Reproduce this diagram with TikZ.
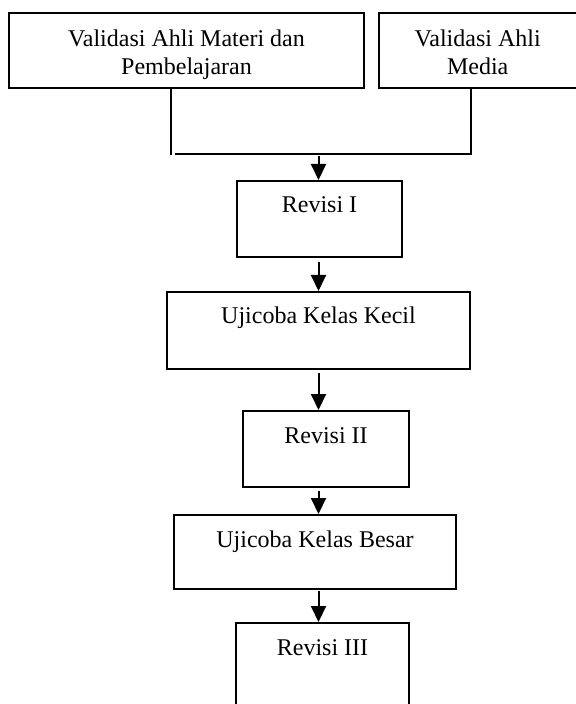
\documentclass[tikz,border=0pt]{standalone}
\usepackage{fontspec}
\setmainfont{Liberation Serif}
\usetikzlibrary{arrows.meta,calc}
\begin{document}
\begin{tikzpicture}[x=0.5pt,y=-0.5pt,line width=1pt,
  box/.style={draw,rectangle,inner sep=0pt,text height=16pt,font=\fontsize{12}{14}\selectfont},
  txt/.style={inner sep=0pt,align=center,anchor=north,font=\fontsize{12}{14}\selectfont},
  arr/.style={-{Triangle[width=7.5pt,length=8pt]}}]
\useasboundingbox (0,0) rectangle (576,704);
% top boxes
\node[box,minimum width=177.5pt,minimum height=37.5pt] (a) at (186.5,50.5) {};
\node[txt] (at) at (186.5,28.6) {Validasi Ahli Materi dan\\Pembelajaran};
\node[box,minimum width=99.5pt,minimum height=37.5pt] (b) at (478.5,50.5) {};
\node[txt] (bt) at (477.7,28.6) {Validasi Ahli\\Media};
% chain
\node[box,minimum width=82.5pt,text depth=22pt] (r1) at (319.5,219) {Revisi I};
\node[box,minimum width=151.5pt,text depth=22.5pt] (uk) at (318.5,330.5) {Ujicoba Kelas Kecil};
\node[box,minimum width=83pt,text depth=22pt] (r2) at (326,449) {Revisi II};
\node[box,minimum width=141pt,text depth=21pt] (ub) at (315,552) {Ujicoba Kelas Besar};
\node[box,minimum width=86.5pt,text depth=26.5pt] (r3) at (322.5,665.5) {Revisi III};
% junction
\coordinate (jl) at (171,155);
\coordinate (js) at (175,154);
\coordinate (jr) at (471,154);
\coordinate (jm) at (318.5,156);
\draw (a.south -| jl) -- (jl);
\draw (js) -- (jr) -- (b.south -| jr);
\draw[arr] (jm) -- (r1.north -| jm);
% arrows
\draw[arr,shorten <=2pt] (r1.south -| jm) -- (uk.north -| jm);
\draw[arr,shorten <=1.5pt] (uk.south -| jm) -- (r2.north -| jm);
\draw[arr,shorten <=1.5pt] (r2.south -| jm) -- (ub.north -| jm);
\draw[arr,shorten <=0.5pt] (ub.south -| jm) -- (r3.north -| jm);
\end{tikzpicture}
\end{document}
